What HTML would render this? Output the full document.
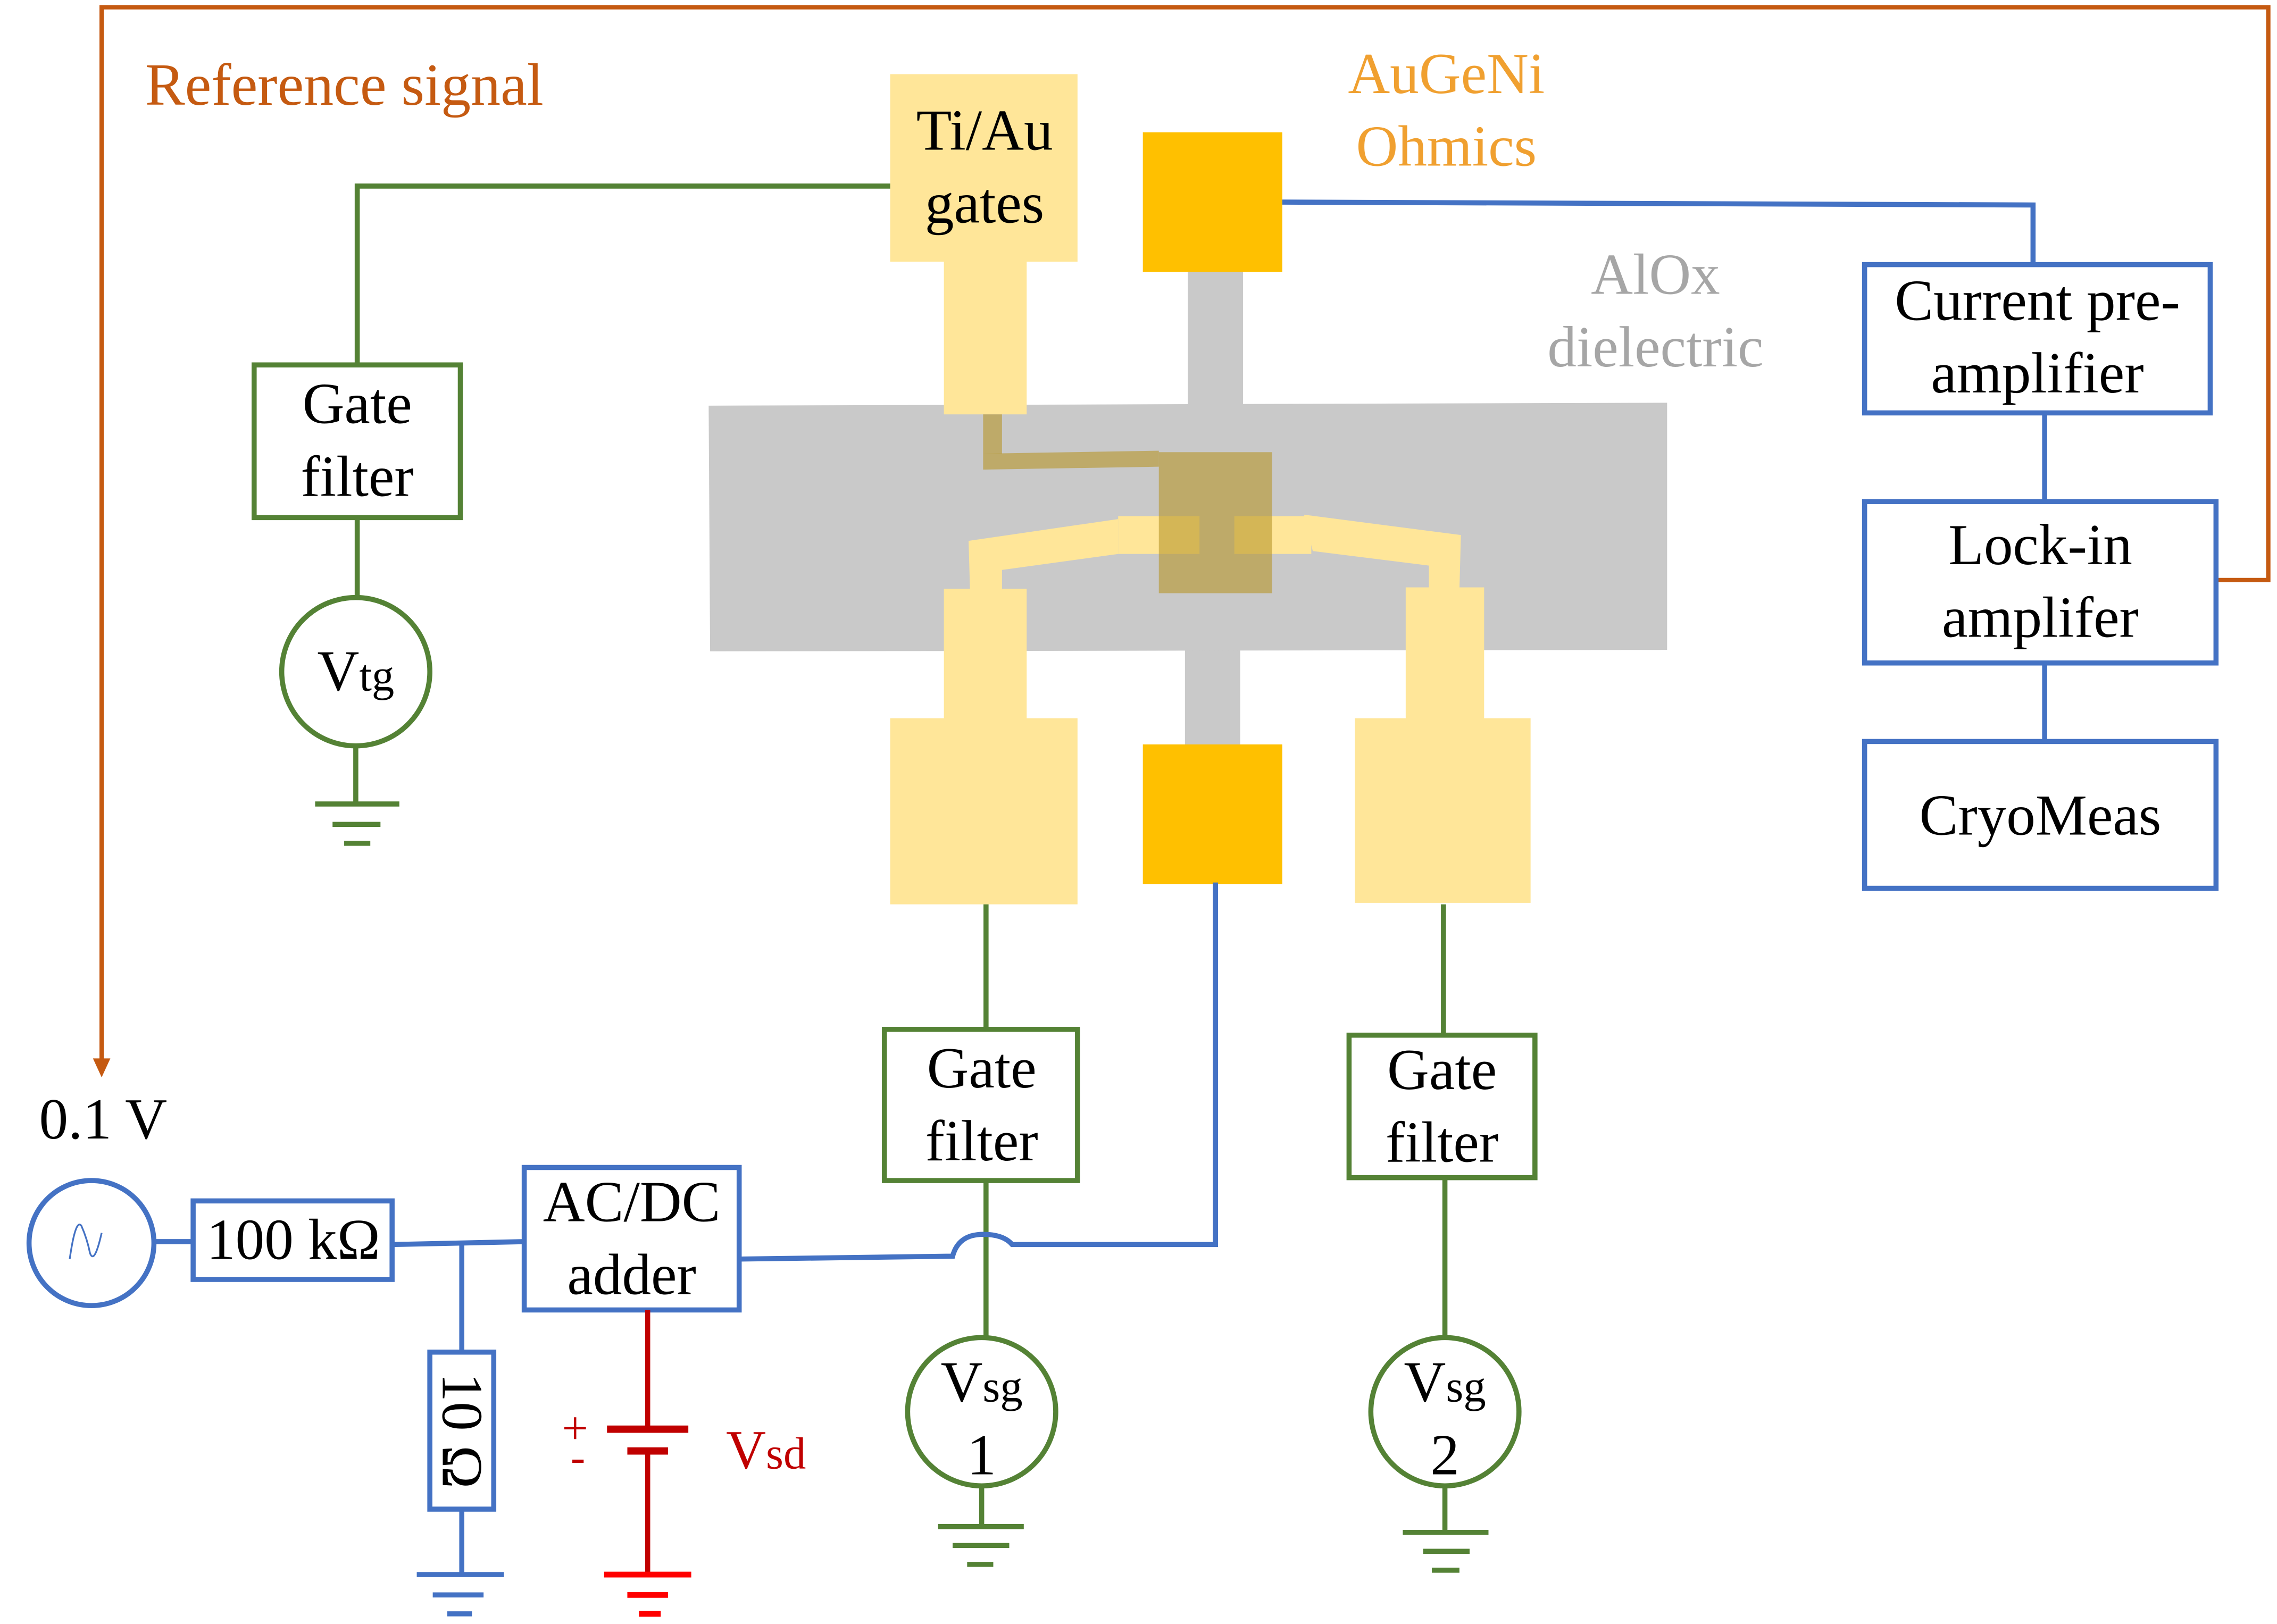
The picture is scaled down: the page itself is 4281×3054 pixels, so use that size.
<!DOCTYPE html>
<html><head><meta charset="utf-8"><style>html,body{margin:0;padding:0;background:#fff}svg{display:block}</style></head><body>
<svg width="4281" height="3054" viewBox="0 0 1568 1117" preserveAspectRatio="none" xmlns="http://www.w3.org/2000/svg" font-family="'Liberation Serif',serif">
<rect width="1568" height="1117" fill="#fff"/>
<rect x="818" y="186" width="38" height="95" fill="#C9C9C9"/>
<rect x="816" y="445" width="38" height="70" fill="#C9C9C9"/>
<polygon points="488,279 1148,277 1148,447 489,448" fill="#C9C9C9"/>
<rect x="613" y="51" width="129" height="129" fill="#FFE699"/>
<rect x="650" y="178" width="57" height="107" fill="#FFE699"/>
<rect x="787" y="91" width="96" height="96" fill="#FFC000"/>
<rect x="787" y="512" width="96" height="96" fill="#FFC000"/>
<polygon points="667,372 770,357 770,381 690,392 690,407 668,407" fill="#FFE699"/>
<rect x="650" y="405" width="57" height="95" fill="#FFE699"/>
<rect x="613" y="494" width="129" height="128" fill="#FFE699"/>
<polygon points="898,354 1006,368 1005,406 984,406 984,389 904,379" fill="#FFE699"/>
<rect x="968" y="404" width="54" height="95" fill="#FFE699"/>
<rect x="933" y="494" width="121" height="127" fill="#FFE699"/>
<rect x="770" y="355" width="56" height="26" fill="#FFE699"/>
<rect x="850" y="355" width="53" height="26" fill="#FFE699"/>
<g fill="#B8962A" fill-opacity="0.6">
<rect x="677" y="285" width="13" height="27"/>
<polygon points="677,312 798,310 798,321 677,323"/>
<rect x="798" y="311" width="78" height="97"/>
</g>
<polyline points="1526,399 1562,399 1562,5 70,5 70,730" fill="none" stroke="#C55A11" stroke-width="3"/>
<polygon points="64,728 76,728 70,741" fill="#C55A11"/>
<g fill="none" stroke="#548235" stroke-width="3.5">
<polyline points="613,128 246,128 246,251"/>
<rect x="175" y="251" width="142" height="105"/>
<line x1="246" y1="356" x2="246" y2="411"/>
<circle cx="245" cy="462" r="51"/>
<line x1="245" y1="513" x2="245" y2="553"/>
<line x1="217" y1="553" x2="275" y2="553"/><line x1="229" y1="567" x2="262" y2="567"/><line x1="237" y1="580" x2="255" y2="580"/>
<line x1="679" y1="622" x2="679" y2="708"/>
<rect x="609" y="708" width="133" height="104"/>
<line x1="679" y1="812" x2="679" y2="920"/>
<circle cx="676" cy="971" r="51"/>
<line x1="676" y1="1022" x2="676" y2="1050"/>
<line x1="646" y1="1050" x2="705" y2="1050"/><line x1="656" y1="1063" x2="695" y2="1063"/><line x1="666" y1="1076" x2="684" y2="1076"/>
<line x1="994" y1="622" x2="994" y2="712"/>
<rect x="929" y="712" width="128" height="98"/>
<line x1="995" y1="810" x2="995" y2="920"/>
<circle cx="995" cy="971" r="51"/>
<line x1="995" y1="1022" x2="995" y2="1054"/>
<line x1="966" y1="1054" x2="1025" y2="1054"/><line x1="980" y1="1067" x2="1012" y2="1067"/><line x1="986" y1="1080" x2="1005" y2="1080"/>
</g>
<g fill="none" stroke="#4472C4" stroke-width="3.5">
<polyline points="883,139 1400,141 1400,182"/>
<rect x="1284" y="182" width="238" height="102"/>
<line x1="1408" y1="284" x2="1408" y2="345"/>
<rect x="1284" y="345" width="242" height="111"/>
<line x1="1408" y1="456" x2="1408" y2="510"/>
<rect x="1284" y="510" width="242" height="101"/>
<circle cx="63" cy="855" r="43"/>
<line x1="106" y1="854" x2="133" y2="854"/>
<rect x="133" y="826" width="137" height="54"/>
<line x1="270" y1="856" x2="361" y2="854"/>
<line x1="318" y1="855" x2="318" y2="930"/>
<rect x="296" y="930" width="44" height="108"/>
<line x1="318" y1="1038" x2="318" y2="1083"/>
<line x1="287" y1="1083" x2="347" y2="1083"/><line x1="298" y1="1097" x2="333" y2="1097"/><line x1="308" y1="1110" x2="325" y2="1110"/>
<rect x="361" y="803" width="148" height="98"/>
<path d="M509,866 L656,864 Q660,849 677,849 Q691,849 697,856 L837,856 L837,607"/>
</g>
<path d="M48,866 Q52,838 56,843 Q60,852 62,862 Q65,870 70,848" fill="none" stroke="#4472C4" stroke-width="1.2"/>
<g fill="none" stroke="#C00000" stroke-width="3.5">
<line x1="446" y1="901" x2="446" y2="983"/>
<line x1="418" y1="983" x2="474" y2="983" stroke-width="5"/>
<line x1="432" y1="998" x2="460" y2="998" stroke-width="5"/>
<line x1="446" y1="998" x2="446" y2="1083"/>
</g>
<g stroke="#FF0000" stroke-width="4"><line x1="416" y1="1083" x2="476" y2="1083"/><line x1="432" y1="1097" x2="460" y2="1097"/><line x1="440" y1="1110" x2="455" y2="1110"/></g>
<text x="387" y="993" font-size="32" fill="#C00000">+</text>
<text x="393" y="1012" font-size="30" fill="#C00000">-</text>
<text x="500" y="1010" font-size="38" fill="#C00000">V<tspan font-size="31">sd</tspan></text>
<g font-size="40" fill="#000" text-anchor="middle">
<text x="100" y="72" fill="#C55A11" text-anchor="start" font-size="41">Reference signal</text>
<text x="996" y="64" fill="#F0A030">AuGeNi</text>
<text x="996" y="114" fill="#F0A030">Ohmics</text>
<text x="1140" y="202" fill="#A6A6A6">AlOx</text>
<text x="1140" y="252" fill="#A6A6A6">dielectric</text>
<text x="678" y="103">Ti/Au</text>
<text x="678" y="153">gates</text>
<text x="246" y="291">Gate</text>
<text x="246" y="341">filter</text>
<text x="245" y="475">V<tspan font-size="31">tg</tspan></text>
<text x="1403" y="220">Current pre-</text>
<text x="1403" y="270">amplifier</text>
<text x="1405" y="388">Lock-in</text>
<text x="1405" y="438">amplifer</text>
<text x="1405" y="574">CryoMeas</text>
<text x="676" y="748">Gate</text>
<text x="676" y="798">filter</text>
<text x="993" y="749">Gate</text>
<text x="993" y="799">filter</text>
<text x="676" y="964">V<tspan font-size="31">sg</tspan></text>
<text x="676" y="1014">1</text>
<text x="995" y="964">V<tspan font-size="31">sg</tspan></text>
<text x="995" y="1014">2</text>
<text x="71" y="783">0.1 V</text>
<text x="202" y="866">100 kΩ</text>
<text x="435" y="840">AC/DC</text>
<text x="435" y="890">adder</text>
<text transform="translate(305,984) rotate(90)">10 Ω</text>
</g>
</svg>
</body></html>
